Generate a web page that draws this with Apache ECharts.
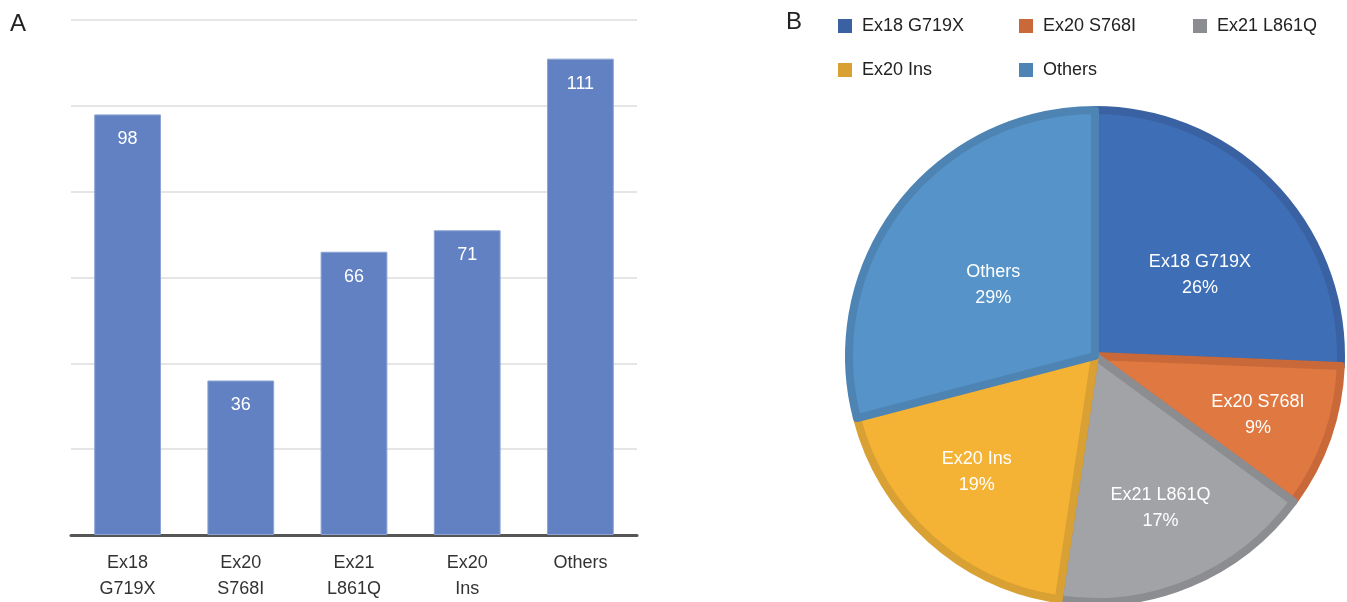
<!DOCTYPE html>
<html>
<head>
<meta charset="utf-8">
<script src="https://cdn.jsdelivr.net/npm/echarts@6/dist/echarts.min.js"></script>
<style>
  html, body { margin: 0; padding: 0; background: #fff; }
  #chart { width: 1347px; height: 602px; }
</style>
</head>
<body>
<div id="chart"></div>
<script>
// Mutation categories and patient counts
const categories = ['Ex18 G719X', 'Ex20 S768I', 'Ex21 L861Q', 'Ex20 Ins', 'Others'];
const axisLabels = ['Ex18\nG719X', 'Ex20\nS768I', 'Ex21\nL861Q', 'Ex20\nIns', 'Others'];
const counts = [98, 36, 66, 71, 111];

// Slice colours: fill and darker rim
const sliceFill = ['#3E6FB6', '#E07941', '#A2A3A7', '#F5B335', '#5593C8'];
const sliceRim = ['#3A62A3', '#C9693A', '#8C8D91', '#D9A033', '#4E84B4'];
// Small label nudges so the slice captions sit where they read best
const labelShift = [[14, 6], [44, 17], [17, 36], [-34, 22], [-2, 6]];

const FONT = 'Liberation Sans, Arial, sans-serif';

// Legend laid out as two rows (three items, then two)
const legendTops = [12, 12, 12, 56, 56];
const legendLefts = [833, 1014, 1188, 833, 1014];

const chart = echarts.init(document.getElementById('chart'), null, { renderer: 'canvas' });

chart.setOption({
  animation: false,
  textStyle: { fontFamily: FONT },
  graphic: [
    { type: 'text', left: 10, top: 12, style: { text: 'A', font: '24px ' + FONT, fill: '#222' } },
    { type: 'text', left: 786, top: 10, style: { text: 'B', font: '24px ' + FONT, fill: '#222' } }
  ],
  legend: categories.map((name, i) => ({
    data: [{ name, itemStyle: { color: sliceRim[i], borderWidth: 0 } }],
    left: legendLefts[i],
    top: legendTops[i],
    itemWidth: 14,
    itemHeight: 14,
    icon: 'rect',
    itemGap: 10,
    selectedMode: false,
    itemStyle: { borderWidth: 0 },
    textStyle: { fontSize: 18, color: '#222', fontFamily: FONT, padding: [0, 0, 0, 5] }
  })),
  grid: { left: 71, right: 710, top: 20, bottom: 67, containLabel: false },
  xAxis: {
    type: 'category',
    data: axisLabels,
    axisTick: { show: false },
    axisLine: { lineStyle: { color: '#555', width: 3 } },
    axisLabel: { color: '#333', fontSize: 18, lineHeight: 26, margin: 15, fontFamily: FONT, interval: 0 }
  },
  yAxis: {
    type: 'value',
    min: 0,
    max: 120,
    interval: 20,
    axisLabel: { show: false },
    axisLine: { show: false },
    axisTick: { show: false },
    splitLine: { lineStyle: { color: '#dcdcdc', width: 1.5 } }
  },
  series: [
    {
      type: 'bar',
      data: counts,
      barWidth: '59%',
      itemStyle: { color: '#6281C2', borderColor: '#8DA3D4', borderWidth: 1 },
      label: {
        show: true,
        position: 'insideTop',
        distance: 16,
        color: '#fff',
        fontSize: 18,
        fontFamily: FONT
      }
    },
    {
      type: 'pie',
      center: [1095, 356],
      radius: [0, 246],
      startAngle: 90,
      clockwise: true,
      data: categories.map((name, i) => ({
        name,
        value: counts[i],
        itemStyle: { color: sliceFill[i], borderColor: sliceRim[i] },
        label: { offset: labelShift[i] }
      })),
      itemStyle: { borderWidth: 8 },
      label: {
        show: true,
        position: 'inside',
        color: '#fff',
        fontSize: 18,
        lineHeight: 26,
        fontFamily: FONT,
        formatter: p => p.name + '\n' + Math.round(p.percent) + '%'
      },
      labelLine: { show: false },
      emphasis: { disabled: true }
    }
  ]
});
</script>
</body>
</html>
